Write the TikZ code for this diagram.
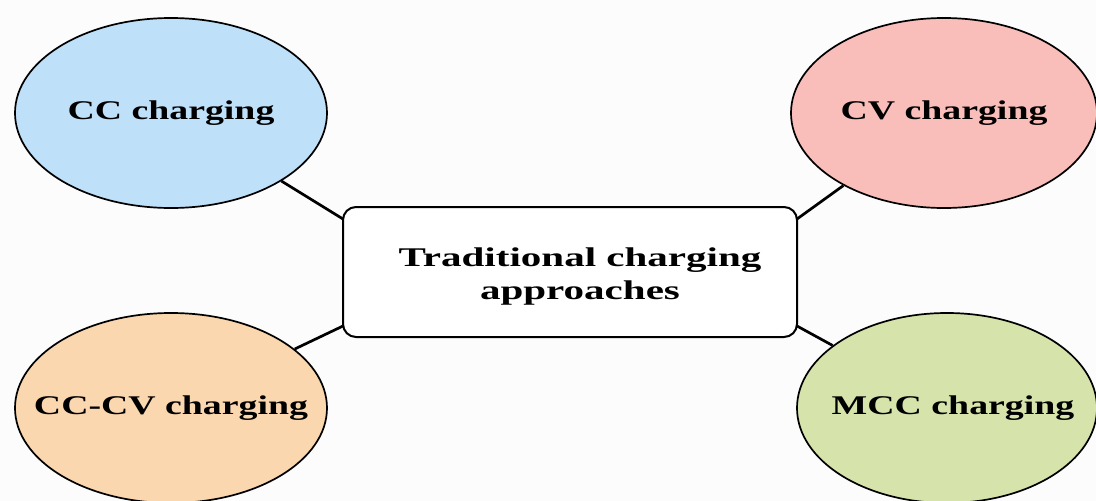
\documentclass[tikz,border=0pt]{standalone}
\usepackage{fontspec}
\setmainfont{Liberation Serif}[FakeStretch=1.4]
\newfontfamily\widefont{Liberation Serif}[FakeStretch=1.52]
\usetikzlibrary{shapes.geometric}
\newcommand\zw[1]{\makebox[0pt]{#1}}
\definecolor{bgc}{RGB}{252,252,252}
\definecolor{ccblue}{RGB}{190,224,248}
\definecolor{cvpink}{RGB}{249,190,186}
\definecolor{ccvpeach}{RGB}{251,215,176}
\definecolor{mccgreen}{RGB}{214,228,172}
\tikzset{
  bubble/.style={ellipse, draw=black, line width=1.7pt, inner sep=0pt,
    minimum width=312pt, minimum height=190pt,
    font=\fontsize{27}{30}\selectfont\bfseries},
  hub/.style={draw=black, line width=2pt, rounded corners=13pt, fill=white,
    minimum width=454pt, minimum height=130pt},
  hubtext/.style={align=center, inner sep=0pt,
    font=\widefont\fontsize{27}{33}\selectfont\bfseries},
  link/.style={line width=2.7pt, black}
}
\begin{document}
\begin{tikzpicture}[x=1pt,y=-1pt]
\fill[bgc] (0,0) rectangle (1096,501);
\useasboundingbox (0,0) rectangle (1096,501);
\node[hub] (box) at (570,272) {};
\node[hubtext] (boxtext) at (580,277) {Traditional charging\\approaches};
\node[bubble, fill=ccblue] (cc) at (171,113) {\zw{CC charging}};
\node[bubble, fill=cvpink, minimum width=306pt] (cv) at (944,113) {\zw{CV charging}};
\node[bubble, fill=ccvpeach] (ccv) at (171,408) {\zw{CC-CV charging}};
\node[bubble, fill=mccgreen, minimum width=300pt] (mcc) at (947,408) {\zw{\hspace{12pt}MCC charging}};
\coordinate (c1) at (343,219);
\coordinate (c2) at (797,219);
\coordinate (c3) at (343,326);
\coordinate (c4) at (797,326);
\draw[link] (cc) -- (c1);
\draw[link] (cv) -- (c2);
\draw[link] (ccv) -- (c3);
\draw[link] (mcc) -- (c4);
\end{tikzpicture}
\end{document}
